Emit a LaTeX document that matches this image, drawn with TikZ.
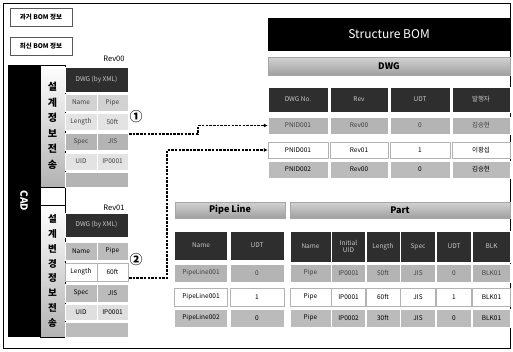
\documentclass[tikz,border=0pt]{standalone}
\usepackage{fontspec}
\setmainfont{Noto Sans CJK KR}
\usetikzlibrary{arrows.meta, positioning, shapes.geometric}
\definecolor{hdark}{HTML}{2E2E2E}
\definecolor{rowgray}{HTML}{B4B4B4}
\definecolor{bargray}{HTML}{A0A0A0}

\begin{document}
\begin{tikzpicture}[
    x=1pt, y=-1pt,
    font=\fontsize{6.5}{7.5}\selectfont,
    legend/.style={
        rectangle, draw=gray!70!black, fill=white,
        minimum width=62pt, minimum height=18pt, inner sep=0pt,
        font=\fontsize{6.5}{7}\selectfont\bfseries
    },
    cadbar/.style={
        rectangle, fill=black, text=white, inner sep=0pt,
        font=\fontsize{10}{11}\selectfont\bfseries
    },
    sendcol/.style={
        rectangle, draw=black, top color=white, bottom color=gray!60,
        minimum width=25pt, inner sep=0pt, align=center
    },
    head/.style={
        rectangle, fill=hdark, draw=white, text=gray!45, inner sep=0pt, align=center
    },
    oldrow/.style={
        rectangle, fill=rowgray, draw=white, text=gray!50!black, inner sep=0pt
    },
    newrow/.style={
        rectangle, fill=white, draw=gray!60, text=black, inner sep=0pt
    },
    keeprow/.style={
        rectangle, fill=rowgray!90, draw=white, text=black, inner sep=0pt
    },
    titlebar/.style={
        rectangle, top color=gray!35, bottom color=bargray, draw=gray!70,
        inner sep=0pt, font=\fontsize{9}{10}\selectfont\bfseries
    },
    num/.style={inner sep=0pt, font=\fontsize{13}{13}\selectfont\bfseries},
    link/.style={
        draw=black, line width=1.1pt, dash pattern=on 2.5pt off 1.2pt,
        -{Latex[length=4pt,width=4pt]}
    }
]
\useasboundingbox (0,0) rectangle (513,351);
\draw[thin] (3,3) rectangle (510,348);

% ---------------------------------------------------------------------
% 1. LEGEND
% ---------------------------------------------------------------------
\node[legend] (legOld) at (41,17) {과거 BOM 정보};
\node[legend] (legNew) at (41,46) {최신 BOM 정보};

% ---------------------------------------------------------------------
% 2. LEFT: CAD
% ---------------------------------------------------------------------
\node[cadbar, rotate=-90, minimum width=272pt, minimum height=32pt] (cad) at (24,201) {CAD};

\node[sendcol, minimum height=122pt, font=\fontsize{10}{15.5}\selectfont\bfseries] (sendA) at (52.5,126) {설\\계\\정\\보\\전\\송};
\node[rectangle, draw=black, fill=white, minimum width=25pt, minimum height=18pt] (gap) at (52.5,196) {};
\node[sendcol, minimum height=132pt, font=\fontsize{9.5}{14.8}\selectfont\bfseries] (sendB) at (52.5,271) {설\\계\\변\\경\\정\\보\\전\\송};

% Rev00 table (old)
\node[font=\fontsize{7.5}{8}\selectfont] (revA) at (114,59) {Rev00};
\node[head, minimum width=63pt, minimum height=25pt] (hdA) at (96.5,79.5) {DWG (by XML)};
\node[oldrow, minimum width=32pt, minimum height=17pt, fill=gray!35] (a11) at (81,102.5) {Name};
\node[oldrow, minimum width=31pt, minimum height=17pt, fill=gray!35] (a12) at (112.5,102.5) {Pipe};
\node[oldrow, minimum width=32pt, minimum height=17pt, fill=gray!22] (a21) at (81,121.5) {Length};
\node[oldrow, minimum width=31pt, minimum height=17pt, fill=gray!22] (a22) at (112.5,121.5) {50ft};
\node[oldrow, minimum width=32pt, minimum height=17pt] (a31) at (81,141.5) {Spec};
\node[oldrow, minimum width=31pt, minimum height=17pt] (a32) at (112.5,141.5) {JIS};
\node[oldrow, minimum width=32pt, minimum height=17pt, fill=gray!22] (a41) at (81,161.5) {UID};
\node[oldrow, minimum width=31pt, minimum height=17pt, fill=gray!22] (a42) at (112.5,161.5) {IP0001};
\node[oldrow, minimum width=63pt, minimum height=15pt] (a51) at (96.5,179.5) {};

% Rev01 table (new)
\node[font=\fontsize{7.5}{8}\selectfont] (revB) at (114,208) {Rev01};
\node[head, minimum width=63pt, minimum height=24pt] (hdB) at (96.5,225) {DWG (by XML)};
\node[keeprow, minimum width=32pt, minimum height=18pt] (b11) at (81,251) {Name};
\node[keeprow, minimum width=31pt, minimum height=18pt] (b12) at (112.5,251) {Pipe};
\node[newrow, minimum width=32pt, minimum height=18pt] (b21) at (81,272) {Length};
\node[newrow, minimum width=31pt, minimum height=18pt] (b22) at (112.5,272) {60ft};
\node[keeprow, minimum width=32pt, minimum height=18pt] (b31) at (81,293) {Spec};
\node[keeprow, minimum width=31pt, minimum height=18pt] (b32) at (112.5,293) {JIS};
\node[keeprow, minimum width=32pt, minimum height=16pt, fill=gray!25] (b41) at (81,312) {UID};
\node[keeprow, minimum width=31pt, minimum height=16pt, fill=gray!25] (b42) at (112.5,312) {IP0001};
\node[keeprow, minimum width=63pt, minimum height=15pt] (b51) at (96.5,329.5) {};

\node[num] (numA) at (136,117) {①};
\node[num] (numB) at (136,260) {②};

% ---------------------------------------------------------------------
% 3. RIGHT: STRUCTURE BOM / DWG
% ---------------------------------------------------------------------
\node[rectangle, fill=black, text=white, minimum width=242pt, minimum height=33pt,
      font=\fontsize{12}{13}\selectfont] (bom) at (389,34.5) {Structure BOM};
\node[titlebar, minimum width=242pt, minimum height=18pt] (dwgbar) at (389,66) {DWG};

\node[head, minimum width=60pt, minimum height=25pt] (dh1) at (298,99.5) {DWG No.};
\node[head, minimum width=58pt, minimum height=25pt] (dh2) at (359,99.5) {Rev};
\node[head, minimum width=60pt, minimum height=25pt] (dh3) at (420,99.5) {UDT};
\node[head, minimum width=58pt, minimum height=25pt] (dh4) at (481,99.5) {발행자};

\node[oldrow, minimum width=60pt, minimum height=17pt] (d11) at (298,125.5) {PNID001};
\node[oldrow, minimum width=58pt, minimum height=17pt] (d12) at (359,125.5) {Rev00};
\node[oldrow, minimum width=60pt, minimum height=17pt] (d13) at (420,125.5) {0};
\node[oldrow, minimum width=58pt, minimum height=17pt] (d14) at (481,125.5) {김승현};

\node[newrow, minimum width=60pt, minimum height=16pt] (d21) at (298,150) {PNID001};
\node[newrow, minimum width=58pt, minimum height=16pt] (d22) at (359,150) {Rev01};
\node[newrow, minimum width=60pt, minimum height=16pt] (d23) at (420,150) {1};
\node[newrow, minimum width=58pt, minimum height=16pt] (d24) at (481,150) {이황섭};

\node[keeprow, minimum width=60pt, minimum height=17pt] (d31) at (298,169.5) {PNID002};
\node[keeprow, minimum width=58pt, minimum height=17pt] (d32) at (359,169.5) {Rev00};
\node[keeprow, minimum width=60pt, minimum height=17pt] (d33) at (420,169.5) {0};
\node[keeprow, minimum width=58pt, minimum height=17pt] (d34) at (481,169.5) {김승현};

% ---------------------------------------------------------------------
% 4. BOTTOM: PIPE LINE
% ---------------------------------------------------------------------
\node[titlebar, minimum width=110pt, minimum height=16pt] (plbar) at (230,210) {Pipe Line};

\node[head, minimum width=53pt, minimum height=29pt] (ph1) at (201,245.5) {Name};
\node[head, minimum width=54pt, minimum height=29pt] (ph2) at (257,245.5) {UDT};

\node[oldrow, minimum width=53pt, minimum height=18pt] (p11) at (201,273) {PipeLine001};
\node[oldrow, minimum width=54pt, minimum height=18pt] (p12) at (257,273) {0};
\node[newrow, minimum width=53pt, minimum height=18pt] (p21) at (201,297) {PipeLine001};
\node[newrow, minimum width=54pt, minimum height=18pt] (p22) at (257,297) {1};
\node[keeprow, minimum width=53pt, minimum height=18pt] (p31) at (201,318) {PipeLine002};
\node[keeprow, minimum width=54pt, minimum height=18pt] (p32) at (257,318) {0};

% ---------------------------------------------------------------------
% 5. BOTTOM: PART
% ---------------------------------------------------------------------
\node[titlebar, minimum width=220pt, minimum height=16pt] (partbar) at (400,210) {Part};

\node[head, minimum width=41pt, minimum height=31pt] (qh1) at (310.5,246.5) {Name};
\node[head, minimum width=34pt, minimum height=31pt] (qh2) at (348.5,246.5) {Initial\\UID};
\node[head, minimum width=34pt, minimum height=31pt] (qh3) at (383,246.5) {Length};
\node[head, minimum width=35pt, minimum height=31pt] (qh4) at (418,246.5) {Spec};
\node[head, minimum width=35pt, minimum height=31pt] (qh5) at (454,246.5) {UDT};
\node[head, minimum width=38pt, minimum height=31pt] (qh6) at (491.5,246.5) {BLK};

\node[oldrow, minimum width=41pt, minimum height=18pt] (q11) at (310.5,273) {Pipe};
\node[oldrow, minimum width=34pt, minimum height=18pt] (q12) at (348.5,273) {IP0001};
\node[oldrow, minimum width=34pt, minimum height=18pt] (q13) at (383,273) {50ft};
\node[oldrow, minimum width=35pt, minimum height=18pt] (q14) at (418,273) {JIS};
\node[oldrow, minimum width=35pt, minimum height=18pt] (q15) at (454,273) {0};
\node[oldrow, minimum width=38pt, minimum height=18pt] (q16) at (491.5,273) {BLK01};

\node[newrow, minimum width=41pt, minimum height=18pt] (q21) at (310.5,297) {Pipe};
\node[newrow, minimum width=34pt, minimum height=18pt] (q22) at (348.5,297) {IP0001};
\node[newrow, minimum width=34pt, minimum height=18pt] (q23) at (383,297) {60ft};
\node[newrow, minimum width=35pt, minimum height=18pt] (q24) at (418,297) {JIS};
\node[newrow, minimum width=35pt, minimum height=18pt] (q25) at (454,297) {1};
\node[newrow, minimum width=38pt, minimum height=18pt] (q26) at (491.5,297) {BLK01};

\node[keeprow, minimum width=41pt, minimum height=18pt] (q31) at (310.5,318) {Pipe};
\node[keeprow, minimum width=34pt, minimum height=18pt] (q32) at (348.5,318) {IP0002};
\node[keeprow, minimum width=34pt, minimum height=18pt] (q33) at (383,318) {30ft};
\node[keeprow, minimum width=35pt, minimum height=18pt] (q34) at (418,318) {JIS};
\node[keeprow, minimum width=35pt, minimum height=18pt] (q35) at (454,318) {0};
\node[keeprow, minimum width=38pt, minimum height=18pt] (q36) at (491.5,318) {BLK01};

% ---------------------------------------------------------------------
% LINKS
% ---------------------------------------------------------------------
\coordinate (fromA) at (129,134);
\coordinate (fromB) at (129,278);

\draw[link] (fromA) -- ++(69,0) |- (d11.west);
\draw[link] (fromB) -- ++(38,0) |- (d21.west);

\end{tikzpicture}
\end{document}
